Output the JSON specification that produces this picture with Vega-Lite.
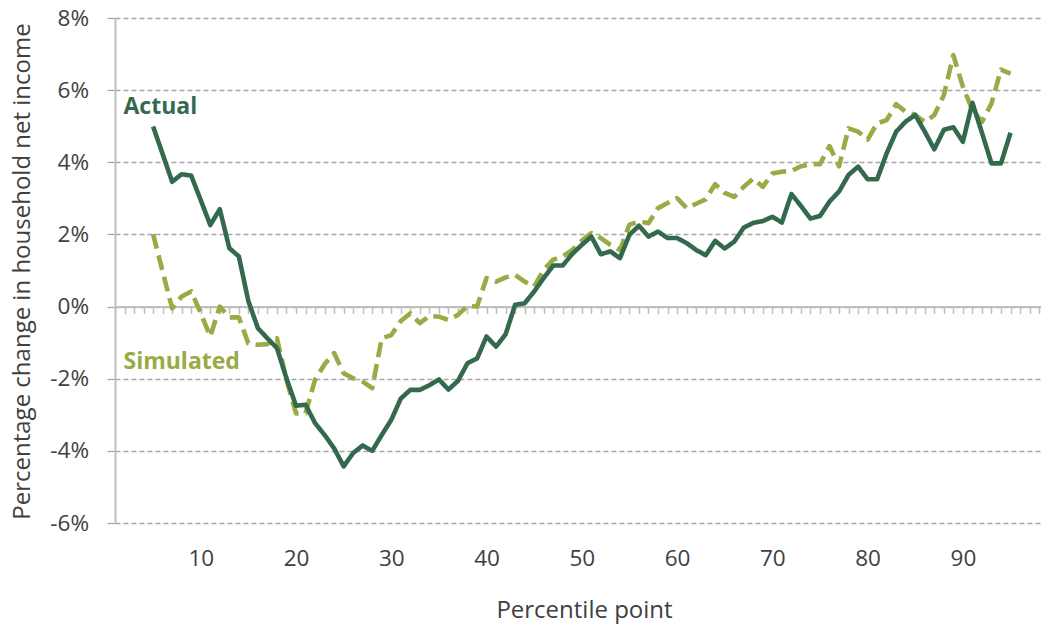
{
  "$schema": "https://vega.github.io/schema/vega-lite/v6.json",
  "width": 926,
  "height": 505,
  "autosize": "none",
  "padding": {"left": 115, "top": 18, "right": 0, "bottom": 108},
  "background": "white",
  "config": {"view": {"stroke": null}},
  "datasets": {
    "lines": [
      {"p":5,"series":"Simulated","value":2.01},{"p":6,"series":"Simulated","value":0.97},{"p":7,"series":"Simulated","value":-0.05},{"p":8,"series":"Simulated","value":0.28},{"p":9,"series":"Simulated","value":0.42},{"p":10,"series":"Simulated","value":-0.18},{"p":11,"series":"Simulated","value":-0.83},{"p":12,"series":"Simulated","value":0.0},{"p":13,"series":"Simulated","value":-0.3},{"p":14,"series":"Simulated","value":-0.3},{"p":15,"series":"Simulated","value":-1.02},{"p":16,"series":"Simulated","value":-1.06},{"p":17,"series":"Simulated","value":-1.04},{"p":18,"series":"Simulated","value":-0.88},{"p":19,"series":"Simulated","value":-2.03},{"p":20,"series":"Simulated","value":-2.96},{"p":21,"series":"Simulated","value":-2.96},{"p":22,"series":"Simulated","value":-2.03},{"p":23,"series":"Simulated","value":-1.6},{"p":24,"series":"Simulated","value":-1.29},{"p":25,"series":"Simulated","value":-1.85},{"p":26,"series":"Simulated","value":-1.99},{"p":27,"series":"Simulated","value":-2.08},{"p":28,"series":"Simulated","value":-2.26},{"p":29,"series":"Simulated","value":-0.88},{"p":30,"series":"Simulated","value":-0.79},{"p":31,"series":"Simulated","value":-0.4},{"p":32,"series":"Simulated","value":-0.19},{"p":33,"series":"Simulated","value":-0.46},{"p":34,"series":"Simulated","value":-0.26},{"p":35,"series":"Simulated","value":-0.28},{"p":36,"series":"Simulated","value":-0.37},{"p":37,"series":"Simulated","value":-0.23},{"p":38,"series":"Simulated","value":0.02},{"p":39,"series":"Simulated","value":0.0},{"p":40,"series":"Simulated","value":0.79},{"p":41,"series":"Simulated","value":0.69},{"p":42,"series":"Simulated","value":0.81},{"p":43,"series":"Simulated","value":0.88},{"p":44,"series":"Simulated","value":0.69},{"p":45,"series":"Simulated","value":0.56},{"p":46,"series":"Simulated","value":1.02},{"p":47,"series":"Simulated","value":1.3},{"p":48,"series":"Simulated","value":1.39},{"p":49,"series":"Simulated","value":1.57},{"p":50,"series":"Simulated","value":1.83},{"p":51,"series":"Simulated","value":2.04},{"p":52,"series":"Simulated","value":1.9},{"p":53,"series":"Simulated","value":1.71},{"p":54,"series":"Simulated","value":1.57},{"p":55,"series":"Simulated","value":2.27},{"p":56,"series":"Simulated","value":2.36},{"p":57,"series":"Simulated","value":2.31},{"p":58,"series":"Simulated","value":2.73},{"p":59,"series":"Simulated","value":2.87},{"p":60,"series":"Simulated","value":3.01},{"p":61,"series":"Simulated","value":2.73},{"p":62,"series":"Simulated","value":2.85},{"p":63,"series":"Simulated","value":2.97},{"p":64,"series":"Simulated","value":3.39},{"p":65,"series":"Simulated","value":3.15},{"p":66,"series":"Simulated","value":3.04},{"p":67,"series":"Simulated","value":3.32},{"p":68,"series":"Simulated","value":3.55},{"p":69,"series":"Simulated","value":3.32},{"p":70,"series":"Simulated","value":3.69},{"p":71,"series":"Simulated","value":3.74},{"p":72,"series":"Simulated","value":3.76},{"p":73,"series":"Simulated","value":3.89},{"p":74,"series":"Simulated","value":3.95},{"p":75,"series":"Simulated","value":3.95},{"p":76,"series":"Simulated","value":4.45},{"p":77,"series":"Simulated","value":3.89},{"p":78,"series":"Simulated","value":4.94},{"p":79,"series":"Simulated","value":4.85},{"p":80,"series":"Simulated","value":4.63},{"p":81,"series":"Simulated","value":5.08},{"p":82,"series":"Simulated","value":5.17},{"p":83,"series":"Simulated","value":5.61},{"p":84,"series":"Simulated","value":5.4},{"p":85,"series":"Simulated","value":5.31},{"p":86,"series":"Simulated","value":5.12},{"p":87,"series":"Simulated","value":5.31},{"p":88,"series":"Simulated","value":5.86},{"p":89,"series":"Simulated","value":6.97},{"p":90,"series":"Simulated","value":6.09},{"p":91,"series":"Simulated","value":5.45},{"p":92,"series":"Simulated","value":5.12},{"p":93,"series":"Simulated","value":5.63},{"p":94,"series":"Simulated","value":6.57},{"p":95,"series":"Simulated","value":6.46},
      {"p":5,"series":"Actual","value":4.99},{"p":6,"series":"Actual","value":4.23},{"p":7,"series":"Actual","value":3.46},{"p":8,"series":"Actual","value":3.67},{"p":9,"series":"Actual","value":3.63},{"p":10,"series":"Actual","value":2.95},{"p":11,"series":"Actual","value":2.26},{"p":12,"series":"Actual","value":2.7},{"p":13,"series":"Actual","value":1.62},{"p":14,"series":"Actual","value":1.39},{"p":15,"series":"Actual","value":0.15},{"p":16,"series":"Actual","value":-0.6},{"p":17,"series":"Actual","value":-0.88},{"p":18,"series":"Actual","value":-1.15},{"p":19,"series":"Actual","value":-1.99},{"p":20,"series":"Actual","value":-2.75},{"p":21,"series":"Actual","value":-2.72},{"p":22,"series":"Actual","value":-3.23},{"p":23,"series":"Actual","value":-3.56},{"p":24,"series":"Actual","value":-3.93},{"p":25,"series":"Actual","value":-4.43},{"p":26,"series":"Actual","value":-4.06},{"p":27,"series":"Actual","value":-3.85},{"p":28,"series":"Actual","value":-4.0},{"p":29,"series":"Actual","value":-3.56},{"p":30,"series":"Actual","value":-3.14},{"p":31,"series":"Actual","value":-2.55},{"p":32,"series":"Actual","value":-2.31},{"p":33,"series":"Actual","value":-2.31},{"p":34,"series":"Actual","value":-2.18},{"p":35,"series":"Actual","value":-2.02},{"p":36,"series":"Actual","value":-2.3},{"p":37,"series":"Actual","value":-2.06},{"p":38,"series":"Actual","value":-1.57},{"p":39,"series":"Actual","value":-1.44},{"p":40,"series":"Actual","value":-0.83},{"p":41,"series":"Actual","value":-1.11},{"p":42,"series":"Actual","value":-0.77},{"p":43,"series":"Actual","value":0.05},{"p":44,"series":"Actual","value":0.09},{"p":45,"series":"Actual","value":0.42},{"p":46,"series":"Actual","value":0.79},{"p":47,"series":"Actual","value":1.14},{"p":48,"series":"Actual","value":1.14},{"p":49,"series":"Actual","value":1.46},{"p":50,"series":"Actual","value":1.71},{"p":51,"series":"Actual","value":1.94},{"p":52,"series":"Actual","value":1.45},{"p":53,"series":"Actual","value":1.53},{"p":54,"series":"Actual","value":1.34},{"p":55,"series":"Actual","value":1.99},{"p":56,"series":"Actual","value":2.24},{"p":57,"series":"Actual","value":1.94},{"p":58,"series":"Actual","value":2.08},{"p":59,"series":"Actual","value":1.9},{"p":60,"series":"Actual","value":1.9},{"p":61,"series":"Actual","value":1.76},{"p":62,"series":"Actual","value":1.57},{"p":63,"series":"Actual","value":1.42},{"p":64,"series":"Actual","value":1.82},{"p":65,"series":"Actual","value":1.61},{"p":66,"series":"Actual","value":1.8},{"p":67,"series":"Actual","value":2.19},{"p":68,"series":"Actual","value":2.32},{"p":69,"series":"Actual","value":2.37},{"p":70,"series":"Actual","value":2.49},{"p":71,"series":"Actual","value":2.33},{"p":72,"series":"Actual","value":3.12},{"p":73,"series":"Actual","value":2.79},{"p":74,"series":"Actual","value":2.44},{"p":75,"series":"Actual","value":2.51},{"p":76,"series":"Actual","value":2.91},{"p":77,"series":"Actual","value":3.19},{"p":78,"series":"Actual","value":3.65},{"p":79,"series":"Actual","value":3.88},{"p":80,"series":"Actual","value":3.53},{"p":81,"series":"Actual","value":3.53},{"p":82,"series":"Actual","value":4.25},{"p":83,"series":"Actual","value":4.85},{"p":84,"series":"Actual","value":5.13},{"p":85,"series":"Actual","value":5.31},{"p":86,"series":"Actual","value":4.85},{"p":87,"series":"Actual","value":4.36},{"p":88,"series":"Actual","value":4.9},{"p":89,"series":"Actual","value":4.97},{"p":90,"series":"Actual","value":4.57},{"p":91,"series":"Actual","value":5.65},{"p":92,"series":"Actual","value":4.82},{"p":93,"series":"Actual","value":3.97},{"p":94,"series":"Actual","value":3.97},{"p":95,"series":"Actual","value":4.82}
    ],
    "labels": [
      {"label":"Actual","p":1.89,"value":5.34},
      {"label":"Simulated","p":1.89,"value":-1.73}
    ]
  },
  "resolve": {"axis": {"x": "independent", "y": "independent"}},
  "layer": [
    {
      "data": {"name": "lines"},
      "mark": {"type": "line", "strokeWidth": 4.6, "strokeCap": "butt", "strokeJoin": "round"},
      "encoding": {
        "x": {
          "field": "p", "type": "quantitative",
          "scale": {"domain": [1, 98.2], "nice": false, "zero": false},
          "axis": {
            "values": [10,20,30,40,50,60,70,80,90],
            "grid": false, "ticks": false, "tickSize": 0, "domain": false,
            "labelFlush": false, "labelPadding": 24,
            "labelFont": "Open Sans", "labelFontSize": 22.5, "labelColor": "#404040",
            "title": "Percentile point", "titleFont": "Open Sans", "titleFontSize": 24,
            "titleFontWeight": "normal", "titleColor": "#404040",
            "titleX": 469, "titleY": 75, "titleBaseline": "top"
          }
        },
        "y": {
          "field": "value", "type": "quantitative",
          "scale": {"domain": [-6, 8], "nice": false, "zero": false},
          "axis": {
            "values": [-6,-4,-2,0,2,4,6,8],
            "labelExpr": "datum.value + '%'",
            "grid": true, "gridDash": [5,3], "gridColor": "#A6A6A6", "gridWidth": 1.3,
            "domain": true, "domainColor": "#BFBFBF", "domainWidth": 2,
            "ticks": true, "tickSize": 8, "tickColor": "#A6A6A6", "tickWidth": 1.3,
            "labelPadding": 18.5, "labelFont": "Open Sans", "labelFontSize": 22.5, "labelColor": "#404040",
            "title": "Percentage change in household net income",
            "titleFont": "Open Sans", "titleFontSize": 24, "titleFontWeight": "normal", "titleColor": "#404040",
            "titleX": -86, "titleY": 253, "titleBaseline": "alphabetic", "titleAngle": -90
          }
        },
        "color": {
          "field": "series", "type": "nominal",
          "scale": {"domain": ["Actual", "Simulated"], "range": ["#336A4E", "#98AB45"]},
          "legend": null
        },
        "strokeDash": {
          "field": "series", "type": "nominal",
          "scale": {"domain": ["Actual", "Simulated"], "range": [[1, 0], [15, 7]]},
          "legend": null
        },
        "order": {"field": "p", "type": "quantitative"}
      }
    },
    {
      "data": {"name": "labels"},
      "mark": {"type": "text", "align": "left", "baseline": "alphabetic", "font": "Open Sans", "fontSize": 23, "fontWeight": "bold"},
      "encoding": {
        "x": {
          "field": "p", "type": "quantitative",
          "axis": {
            "orient": "bottom", "offset": -216.43,
            "values": [1,2,3,4,5,6,7,8,9,10,11,12,13,14,15,16,17,18,19,20,21,22,23,24,25,26,27,28,29,30,31,32,33,34,35,36,37,38,39,40,41,42,43,44,45,46,47,48,49,50,51,52,53,54,55,56,57,58,59,60,61,62,63,64,65,66,67,68,69,70,71,72,73,74,75,76,77,78,79,80,81,82,83,84,85,86,87,88,89,90,91,92,93,94,95,96,97,98],
            "labels": false, "title": null, "grid": false,
            "domain": true, "domainColor": "#BFBFBF", "domainWidth": 2,
            "ticks": true, "tickSize": 7, "tickColor": "#BFBFBF", "tickWidth": 1.5
          }
        },
        "y": {"field": "value", "type": "quantitative", "axis": null},
        "text": {"field": "label"},
        "color": {"field": "label", "type": "nominal", "scale": {"domain": ["Actual", "Simulated"], "range": ["#336A4E", "#98AB45"]}, "legend": null}
      }
    }
  ]
}
